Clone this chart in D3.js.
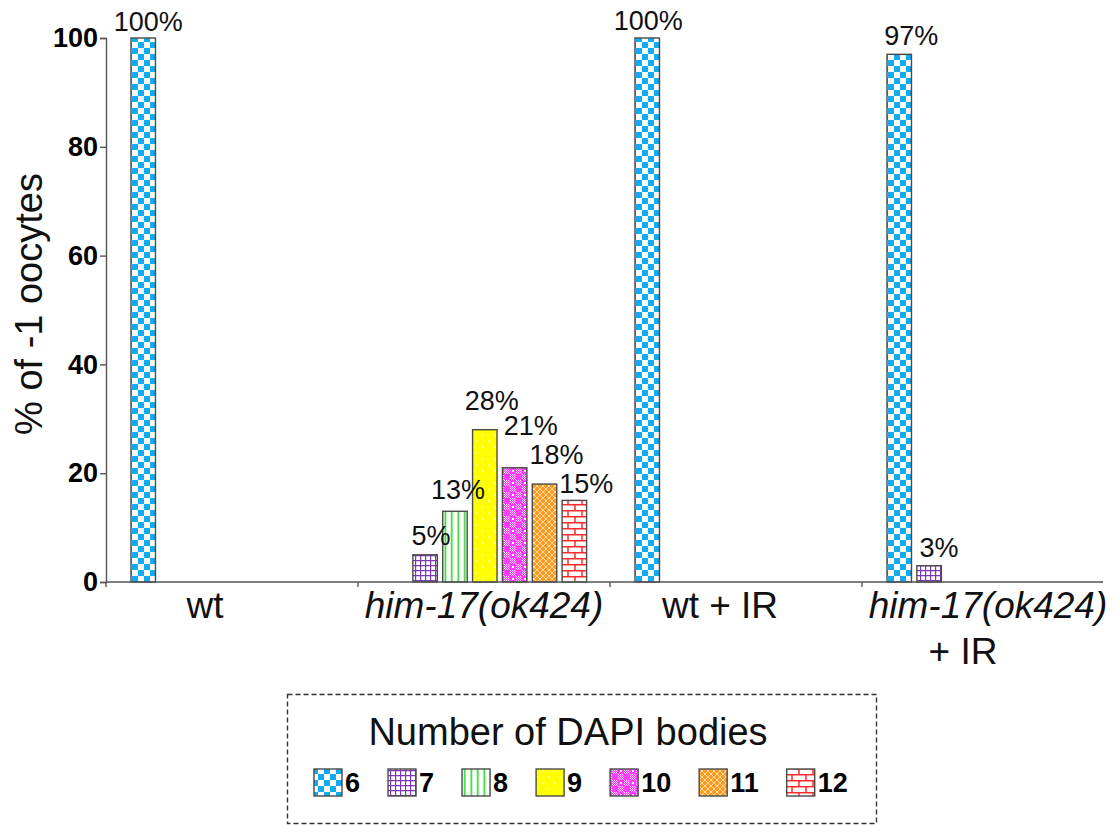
<!DOCTYPE html>
<html>
<head>
<meta charset="utf-8">
<script src="https://cdn.jsdelivr.net/npm/d3@7"></script>
<style>
  html, body { margin: 0; padding: 0; background: #fff; }
  svg { display: block; font-family: "Liberation Sans", Arial, Helvetica, sans-serif; }
</style>
</head>
<body>
<svg id="chart" width="1118" height="825"></svg>
<script>
// ---- data ----
const genotypes = ["wt", "him-17(ok424)", "wt + IR", "him-17(ok424) + IR"];
const dapiBodies = ["6", "7", "8", "9", "10", "11", "12"];
const wtPct         = [100, null, null, null, null, null, null];
const him17Pct      = [null, 5, 13, 28, 21, 18, 15];
const wtIrPct       = [100, null, null, null, null, null, null];
const him17IrPct    = [97, 3, null, null, null, null, null];
const yTicks = [0, 20, 40, 60, 80, 100];
const yTitle = "% of -1 oocytes";
const legendTitle = "Number of DAPI bodies";

const seriesByGenotype = [wtPct, him17Pct, wtIrPct, him17IrPct];

// ---- layout ----
const svg = d3.select("#chart");
svg.append("rect").attr("width", 1118).attr("height", 825).attr("fill", "#fff");

const y = d3.scaleLinear().domain([0, 100]).range([582, 38]);
const xGroup = d3.scaleBand().domain(genotypes).range([106, 1114]).padding(0);
const xBar = d3.scaleBand().domain(dapiBodies).range([25, 228.6]).paddingInner(0.18).paddingOuter(0);

// ---- fill patterns, one per DAPI body count ----
const defs = svg.append("defs");
function pat(id, w, h, build) {
  const p = defs.append("pattern").attr("id", id).attr("patternUnits", "userSpaceOnUse")
    .attr("width", w).attr("height", h);
  build(p);
}
pat("p6", 12, 12, p => {
  p.append("rect").attr("width", 12).attr("height", 12).attr("fill", "#fff");
  p.append("rect").attr("width", 6).attr("height", 6).attr("fill", "#12aaf0");
  p.append("rect").attr("x", 6).attr("y", 6).attr("width", 6).attr("height", 6).attr("fill", "#12aaf0");
});
pat("p7", 5, 5, p => {
  p.append("rect").attr("width", 5).attr("height", 5).attr("fill", "#fff");
  p.append("path").attr("d", "M0 0.6H5M0.6 0V5").attr("stroke", "#7a3aae").attr("stroke-width", 1.2);
});
pat("p8", 6.5, 6, p => {
  p.append("rect").attr("width", 6.5).attr("height", 6).attr("fill", "#fff");
  p.append("rect").attr("x", 2.5).attr("width", 1.6).attr("height", 6).attr("fill", "#22d822");
});
pat("p9", 12, 12, p => {
  p.append("rect").attr("width", 12).attr("height", 12).attr("fill", "#ffff00");
  p.append("circle").attr("cx", 3).attr("cy", 3).attr("r", 0.8).attr("fill", "#fff");
  p.append("circle").attr("cx", 9).attr("cy", 9).attr("r", 0.8).attr("fill", "#fff");
});
pat("p10", 12, 12, p => {
  p.append("rect").attr("width", 12).attr("height", 12).attr("fill", "#ff3cff");
  [[0, 0], [6, 6]].forEach(([ox, oy]) => {
    for (let i = 0; i < 6; i += 2) for (let j = 0; j < 6; j += 2) {
      p.append("rect").attr("x", ox + i).attr("y", oy + j).attr("width", 1).attr("height", 1).attr("fill", "#ffd0ff");
      p.append("rect").attr("x", ox + i + 1).attr("y", oy + j + 1).attr("width", 1).attr("height", 1).attr("fill", "#ffd0ff");
    }
  });
  p.append("rect").attr("x", 8).attr("y", 2).attr("width", 2).attr("height", 2).attr("fill", "#fff");
});
pat("p11", 6, 6, p => {
  p.append("rect").attr("width", 6).attr("height", 6).attr("fill", "#ff9a1e");
  p.append("path").attr("d", "M0 3L3 0L6 3L3 6Z").attr("fill", "none").attr("stroke", "#ffe2b8").attr("stroke-width", 0.9);
});
pat("p12", 14, 12, p => {
  p.append("rect").attr("width", 14).attr("height", 12).attr("fill", "#fff");
  p.append("path").attr("d", "M0 0.75H14M0 6.75H14M1 0V6.75M8 6.75V12")
    .attr("stroke", "#ff2a2a").attr("stroke-width", 1.5);
});
const fillFor = d => `url(#p${d})`;

// ---- bars ----
const barData = [];
genotypes.forEach((g, gi) => {
  seriesByGenotype[gi].forEach((v, si) => {
    if (v != null) barData.push({ g, gi, key: dapiBodies[si], si, v });
  });
});

svg.append("g").selectAll("rect").data(barData).join("rect")
  .attr("x", d => xGroup(d.g) + xBar(d.key))
  .attr("y", d => y(d.v))
  .attr("width", xBar.bandwidth())
  .attr("height", d => y(0) - y(d.v))
  .attr("fill", d => fillFor(d.key))
  .attr("stroke", "#4a4a4a")
  .attr("stroke-width", 1.4);

// value labels; small hand nudges keep neighbouring labels apart
const labelNudge = {
  "0-0": [5, 0], "1-1": [6, -3], "1-2": [3, -5], "1-3": [7, -13],
  "1-4": [16, -26], "1-5": [12, -13], "1-6": [12, 0],
  "2-0": [1, -1], "3-0": [12, -2], "3-1": [10, -2]
};
const nudge = d => labelNudge[d.gi + "-" + d.si] || [0, 0];
svg.append("g").selectAll("text").data(barData).join("text")
  .attr("x", d => xGroup(d.g) + xBar(d.key) + xBar.bandwidth() / 2 + nudge(d)[0])
  .attr("y", d => y(d.v) - 7 + nudge(d)[1])
  .attr("text-anchor", "middle")
  .attr("font-size", 27)
  .attr("fill", "#111")
  .text(d => d.v + "%");

// ---- y axis ----
const yAxis = d3.axisLeft(y).tickValues(yTicks).tickSize(6).tickPadding(2).tickFormat(d3.format("d"));
const gy = svg.append("g").attr("transform", "translate(106,0)").call(yAxis);
gy.select(".domain").attr("stroke", "#555").attr("stroke-width", 1.4);
gy.selectAll(".tick line").attr("stroke", "#555").attr("stroke-width", 1.4);
gy.selectAll(".tick text").attr("font-size", 27).attr("font-weight", "bold")
  .attr("font-family", "'Liberation Sans', Arial, sans-serif").attr("fill", "#000");

svg.append("text")
  .attr("transform", "translate(42,304) rotate(-90)")
  .attr("text-anchor", "middle")
  .attr("font-size", 38)
  .attr("fill", "#111")
  .text(yTitle);

// ---- x axis ----
const gx = svg.append("g");
gx.append("line").attr("x1", 106).attr("x2", 1103).attr("y1", y(0)).attr("y2", y(0))
  .attr("stroke", "#555").attr("stroke-width", 1.4);
gx.selectAll("line.tick").data(genotypes).join("line").attr("class", "tick")
  .attr("x1", d => xGroup(d)).attr("x2", d => xGroup(d))
  .attr("y1", y(0)).attr("y2", y(0) + 5)
  .attr("stroke", "#555").attr("stroke-width", 1.4);

// category names; the IR line of the last group wraps under the genotype
const categoryLines = [["wt"], ["him-17(ok424)"], ["wt + IR"], ["him-17(ok424)", "+ IR"]];
const categoryShift = [[-27], [0], [-16], [0, -25]];
categoryLines.forEach((lines, gi) => {
  lines.forEach((txt, li) => {
    svg.append("text")
      .attr("x", xGroup(genotypes[gi]) + xGroup.bandwidth() / 2 + categoryShift[gi][li])
      .attr("y", 618 + li * 46)
      .attr("text-anchor", "middle")
      .attr("font-size", 37)
      .attr("font-style", /him/.test(txt) ? "italic" : "normal")
      .attr("fill", "#111")
      .text(txt);
  });
});

// ---- legend ----
const lg = svg.append("g");
lg.append("rect").attr("x", 287.5).attr("y", 694.5).attr("width", 589).attr("height", 129)
  .attr("fill", "#fff").attr("stroke", "#333").attr("stroke-width", 1.4).attr("stroke-dasharray", "5,3");
lg.append("text").attr("x", 568).attr("y", 745).attr("text-anchor", "middle")
  .attr("font-size", 38).attr("fill", "#111").text(legendTitle);

let lx = 314;
dapiBodies.forEach(k => {
  lg.append("rect").attr("x", lx).attr("y", 769).attr("width", 28).attr("height", 27)
    .attr("fill", fillFor(k)).attr("stroke", "#4a4a4a").attr("stroke-width", 1.4);
  const t = lg.append("text").attr("x", lx + 31).attr("y", 792)
    .attr("font-size", 27).attr("font-weight", "bold").attr("fill", "#000").text(k);
  const w = t.node().getComputedTextLength();
  lx += 31 + w + 28;
});
</script>
</body>
</html>
